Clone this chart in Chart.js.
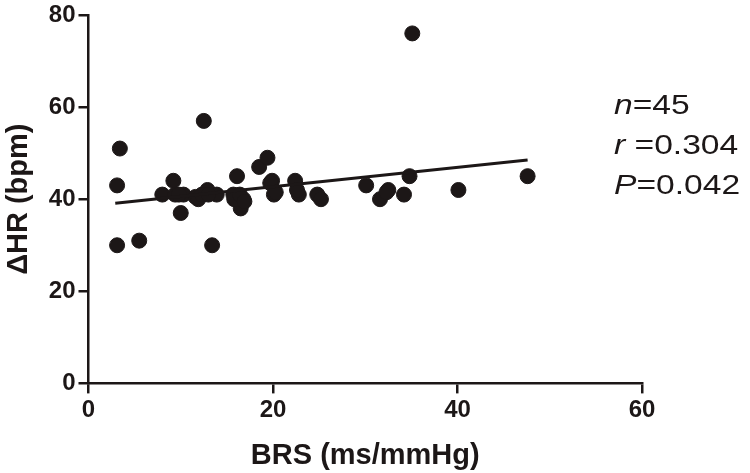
<!DOCTYPE html>
<html>
<head>
<meta charset="utf-8">
<script src="https://cdn.jsdelivr.net/npm/chart.js@4.4.1/dist/chart.umd.min.js"></script>
<style>
  html, body { margin: 0; padding: 0; background: #fff; }
  #wrap { width: 750px; height: 473px; }
</style>
</head>
<body>
<div id="wrap"><canvas id="brsChart" width="750" height="473"></canvas></div>
<script>
// BRS (ms/mmHg) vs delta HR (bpm)
const brsValues = [3.1, 3.1, 3.4, 5.5, 8.0, 9.2, 9.4, 10.3, 10.0, 11.6, 12.5, 12.9, 13.4, 13.9, 15.7,
    16.1, 16.5, 16.8, 18.5, 19.4, 19.9, 20.1, 22.4, 22.8, 24.8, 25.2, 30.1, 31.6, 32.5, 34.2,
    34.8, 35.1, 40.1, 47.6, 11.9, 12.3, 15.8, 16.4, 19.7, 20.3, 22.6, 13.0, 9.8, 16.9, 32.3];
const hrValues = [30, 43, 51, 31, 41, 44, 41, 41, 37, 40.5, 57, 42, 30, 41, 41,
    45, 38, 40, 47, 49, 44, 41, 44, 41, 41, 40, 43, 40, 42, 41,
    45, 76, 42, 45, 40, 41, 40, 41, 43.5, 41.5, 42, 41, 41, 39.5, 41.5];

// fitted regression line end points
const fitX = [2.9, 47.6];
const fitY = [39.1, 48.5];

const xTicks = [0, 20, 40, 60];
const yTicks = [0, 20, 40, 60, 80];
const statLines = [
    [['n', true], ['=45', false]],
    [['r', true], [' =0.304', false]],
    [['P', true], ['=0.042', false]]
];

const ink = '#1c1717';
const fontFam = '"Liberation Sans", Arial, sans-serif';

const statsPlugin = {
    id: 'stats',
    afterDraw(chart) {
        const c = chart.ctx;
        c.save();
        c.fillStyle = ink;
        c.textBaseline = 'alphabetic';
        statLines.forEach((parts, i) => {
            c.save();
            c.translate(614, 114 + i * 40);
            c.scale(1.2, 1);
            let x = 0;
            parts.forEach(([txt, it]) => {
                c.font = (it ? 'italic ' : '') + '28px ' + fontFam;
                c.fillText(txt, x, 0);
                x += c.measureText(txt).width;
            });
            c.restore();
        });
        c.restore();
    }
};

const scatterData = brsValues.map((v, i) => ({ x: v, y: hrValues[i] }));
const fitData = fitX.map((v, i) => ({ x: v, y: fitY[i] }));

const axisCommon = {
    type: 'linear',
    grid: { drawOnChartArea: false, drawTicks: true, tickLength: 10, color: ink, lineWidth: 2.5 },
    border: { display: true, color: ink, width: 2.5 },
};

new Chart(document.getElementById('brsChart'), {
    type: 'scatter',
    data: {
        datasets: [{
            data: scatterData,
            backgroundColor: ink,
            borderColor: ink,
            pointRadius: 7.5,
            pointHoverRadius: 7.5,
            order: 2
        }, {
            type: 'line',
            data: fitData,
            borderColor: ink,
            borderWidth: 3,
            pointRadius: 0,
            fill: false,
            order: 1
        }]
    },
    options: {
        responsive: false,
        animation: false,
        events: [],
        layout: { padding: { left: 2, right: 108, top: 0, bottom: 0 } },
        plugins: { legend: { display: false }, tooltip: { enabled: false } },
        scales: {
            x: {
                ...axisCommon,
                min: 0, max: 60,
                afterBuildTicks: s => { s.ticks = xTicks.map(v => ({ value: v })); },
                ticks: { color: ink, font: { family: fontFam, size: 24, weight: 'bold' }, padding: 3 },
                title: { display: true, text: 'BRS (ms/mmHg)', color: ink, font: { family: fontFam, size: 29, weight: 'bold' }, padding: { top: 10, bottom: 0 } }
            },
            y: {
                ...axisCommon,
                min: 0, max: 80,
                afterBuildTicks: s => { s.ticks = yTicks.map(v => ({ value: v })); },
                ticks: { color: ink, font: { family: fontFam, size: 24, weight: 'bold', lineHeight: 1 }, padding: 3 },
                title: { display: true, text: 'ΔHR (bpm)', color: ink, font: { family: fontFam, size: 29, weight: 'bold' }, padding: { top: 0, bottom: 9 } }
            }
        }
    },
    plugins: [statsPlugin]
});
</script>
</body>
</html>
